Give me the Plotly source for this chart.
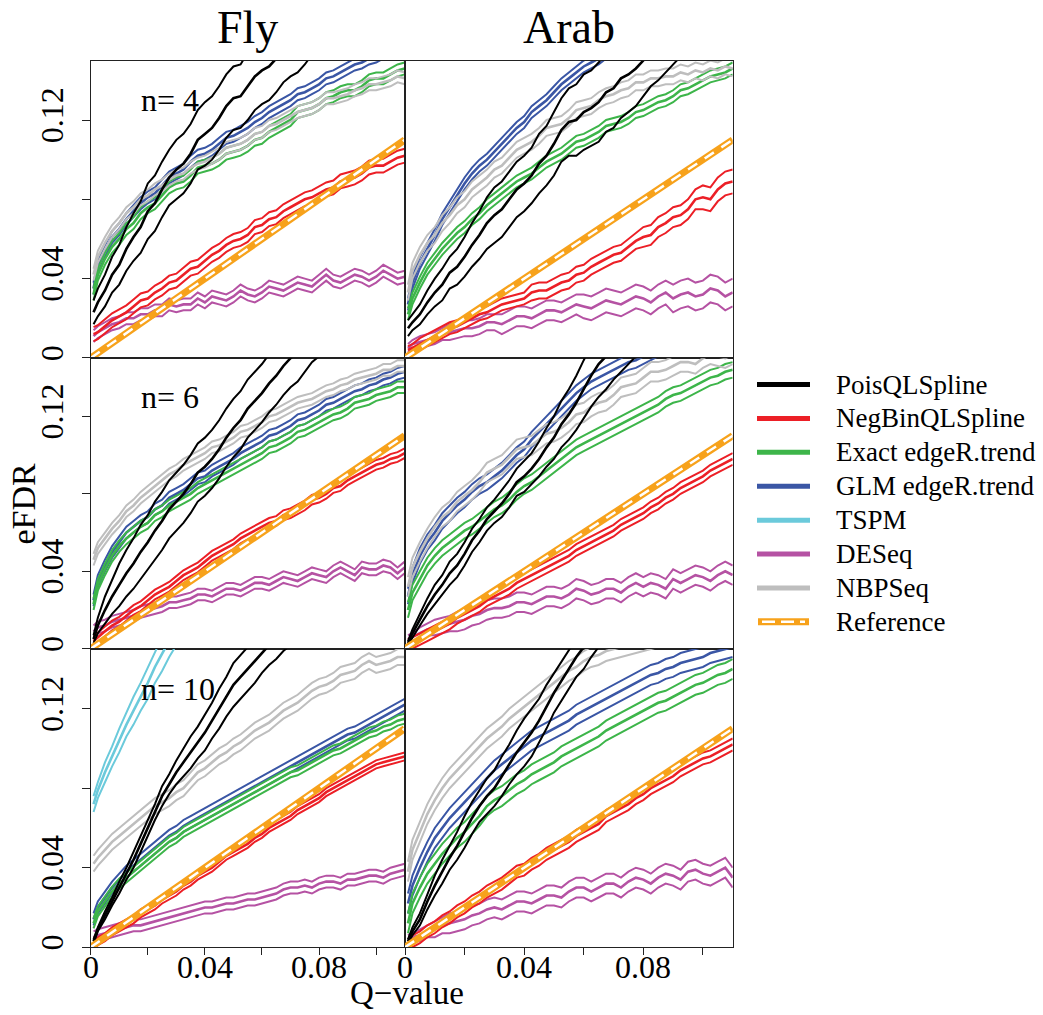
import numpy as np
import plotly.graph_objects as go

# ---------------- data (values in thousandths) ----------------
# Q-value grid (per mille)
Q = [1, 2.5, 5, 7.5, 10, 12.5, 15, 17.5, 20,
     22.5, 25, 27.5, 30, 32.5, 35, 37.5, 40, 42.5,
     45, 47.5, 50, 52.5, 55, 57.5, 60, 62.5, 65,
     67.5, 70, 72.5, 75, 77.5, 80, 82.5, 85, 87.5,
     90, 92.5, 95, 97.5, 100, 102.5, 105, 107.5, 110]

methods = ["PoisQLSpline", "NegBinQLSpline", "Exact edgeR.trend", "GLM edgeR.trend",
           "TSPM", "DESeq", "NBPSeq"]
colors = ["#000000", "#EC1F26", "#3DB54A", "#3A56A5", "#6BCADB", "#B552A3", "#BEBEBE"]
ref_color = "#F7A21B"
ref_q = [0, 110]
ref_efdr = [0, 110]

# ----- Fly, n = 4 -----
fly4_pois = [23, 28, 34, 42, 47, 55, 61, 66, 74,
             78, 85, 91, 95, 98, 103, 110, 113, 116,
             121, 127, 131, 132, 137, 142, 145, 147, 151,
             156, 159, 161, 165, 170, 173, 175, 178, 183,
             186, 189, 192, 196, 199, 202, 205, 209, 212]
fly4_pois_hw = [6, 7, 8, 9, 10, 11, 12, 13, 14,
                14, 14, 14, 15, 15, 15, 15, 16, 16,
                16, 16, 16, 16, 17, 17, 17, 17, 17,
                17, 17, 17, 17, 17, 17, 17, 17, 17,
                17, 17, 17, 17, 17, 17, 17, 17, 17]
fly4_negbin = [12, 13, 16, 19, 21, 23, 26, 29, 30,
               33, 35, 38, 39, 42, 45, 46, 49, 52,
               54, 57, 59, 60, 62, 66, 67, 70, 71,
               74, 76, 78, 80, 81, 83, 85, 86, 89,
               90, 91, 93, 96, 97, 97, 99, 101, 102]
fly4_negbin_hw = 3.5
fly4_exact = [32, 42, 50, 56, 60, 65, 68, 73, 76,
              78, 82, 86, 88, 89, 92, 96, 97, 98,
              100, 103, 104, 105, 107, 110, 111, 114, 116,
              118, 120, 124, 125, 126, 128, 131, 132, 134,
              135, 135, 137, 140, 141, 141, 143, 145, 146]
fly4_exact_hw = 3
fly4_glm = [35, 46, 54, 61, 65, 70, 74, 78, 81,
            83, 87, 91, 93, 95, 99, 102, 103, 105,
            108, 111, 112, 114, 116, 119, 121, 124, 126,
            128, 130, 133, 134, 136, 138, 141, 142, 144,
            146, 148, 149, 151, 152, 154, 155, 157, 158]
fly4_glm_hw = 3
fly4_deseq = [11, 13, 15, 17, 18, 20, 20, 22, 22,
              24, 24, 27, 26, 27, 27, 30, 28, 31,
              30, 29, 31, 34, 32, 31, 33, 36, 35,
              34, 36, 38, 37, 36, 39, 42, 39, 38,
              40, 42, 41, 39, 41, 44, 42, 40, 41]
fly4_deseq_hw = 3
fly4_nbp = [42, 51, 58, 64, 68, 73, 76, 80, 82,
            85, 87, 90, 92, 93, 96, 98, 99, 101,
            103, 106, 107, 108, 110, 113, 114, 117, 118,
            120, 122, 124, 125, 126, 128, 131, 131, 132,
            133, 135, 136, 138, 138, 139, 140, 142, 141]
fly4_nbp_hw = 3

# ----- Fly, n = 6 -----
fly6_pois = [5, 12, 20, 27, 33, 39, 44, 50, 55,
             61, 66, 72, 76, 80, 85, 91, 94, 98,
             103, 109, 114, 118, 124, 128, 132, 137, 141,
             146, 150, 153, 158, 163, 166, 170, 174, 178,
             182, 186, 190, 194, 198, 202, 206, 210, 214]
fly6_pois_hw = [2, 4, 7, 9, 11, 12, 13, 14, 14,
                15, 15, 15, 15, 15, 15, 15, 15, 15,
                15, 15, 15, 15, 15, 15, 15, 15, 15,
                15, 15, 15, 15, 15, 15, 15, 15, 15,
                15, 15, 15, 15, 15, 15, 15, 15, 15]
fly6_negbin = [4, 6, 9, 12, 14, 17, 20, 22, 25,
               28, 30, 32, 35, 38, 40, 42, 45, 48,
               50, 52, 54, 57, 59, 61, 63, 65, 66,
               69, 70, 72, 74, 77, 78, 80, 83, 84,
               87, 89, 91, 93, 95, 96, 98, 99, 101]
fly6_negbin_hw = 2.5
fly6_exact = [23, 33, 41, 48, 53, 57, 60, 63, 65,
              69, 71, 74, 76, 78, 80, 83, 85, 87,
              89, 91, 93, 95, 97, 99, 101, 104, 105,
              107, 109, 112, 113, 115, 117, 119, 121, 122,
              124, 127, 128, 129, 131, 132, 133, 135, 135]
fly6_exact_hw = 3
fly6_glm = [25, 35, 43, 50, 55, 60, 63, 66, 68,
            72, 74, 78, 80, 82, 85, 88, 89, 92,
            94, 96, 98, 101, 103, 105, 107, 110, 111,
            113, 115, 118, 119, 121, 123, 126, 127, 129,
            131, 133, 134, 136, 137, 139, 140, 142, 143]
fly6_glm_hw = 3
fly6_deseq = [9, 11, 12, 14, 15, 16, 17, 19, 20,
              21, 22, 24, 24, 25, 26, 28, 28, 27,
              29, 31, 31, 30, 32, 34, 34, 33, 35,
              37, 36, 35, 37, 39, 38, 37, 40, 42,
              40, 38, 42, 41, 41, 43, 42, 39, 42]
fly6_deseq_hw = 3
fly6_nbp = [46, 52, 57, 62, 66, 71, 74, 78, 81,
            84, 87, 90, 92, 95, 97, 99, 101, 104,
            105, 107, 109, 112, 113, 115, 117, 120, 121,
            123, 125, 127, 128, 129, 131, 133, 134, 136,
            137, 139, 140, 141, 142, 144, 144, 146, 146]
fly6_nbp_hw = 3

# ----- Fly, n = 10 -----
fly10_pois = [3, 9, 16, 23, 30, 37, 44, 52, 60,
              68, 76, 82, 88, 93, 98, 103, 108, 114,
              120, 126, 132, 136, 140, 144, 148, 152, 155,
              159, 162, 166, 169, 173, 176, 180, 183, 187,
              190, 194, 197, 201, 204, 208, 211, 215, 218]
fly10_pois_hw = [1, 1, 2, 2, 3, 3, 4, 4, 4,
                 4, 5, 5, 6, 7, 8, 8, 9, 9,
                 10, 10, 11, 11, 11, 11, 10, 10, 10,
                 10, 10, 10, 10, 10, 10, 10, 10, 10,
                 10, 10, 10, 10, 10, 10, 10, 10, 10]
fly10_negbin = [1, 3, 5, 8, 10, 12, 14, 17, 19,
                21, 24, 26, 28, 31, 33, 36, 38, 40,
                43, 46, 48, 50, 52, 55, 57, 60, 62,
                64, 66, 69, 71, 73, 75, 78, 80, 82,
                84, 86, 88, 90, 92, 93, 94, 95, 96]
fly10_negbin_hw = 2
fly10_exact = [12, 18, 23, 28, 32, 35, 38, 41, 44,
               47, 50, 53, 55, 58, 60, 62, 64, 66,
               68, 70, 72, 74, 76, 78, 80, 82, 84,
               86, 88, 89, 91, 93, 95, 97, 99, 100,
               102, 104, 106, 108, 109, 111, 112, 114, 115]
fly10_exact_hw = 2.5
fly10_glm = [14, 20, 25, 30, 34, 38, 41, 44, 47,
             50, 53, 56, 58, 61, 63, 65, 67, 69,
             71, 73, 75, 77, 79, 81, 83, 85, 87,
             89, 91, 93, 95, 97, 99, 101, 103, 105,
             107, 108, 110, 112, 114, 116, 118, 120, 122]
fly10_glm_hw = 3
fly10_tspm = [72, 79, 88, 96, 104, 112, 119, 126, 133,
              141, 148, 155, 162, 169, 175, 182, 188, 194,
              200, 206, 212, 218, 224, 230, 236, 242, 247,
              253, 258, 264, 269, 275, 280, 285, 290, 295,
              300, 305, 310, 315, 320, 325, 330, 335, 340]
fly10_tspm_hw = [4, 4, 5, 5, 6, 6, 7, 7, 8,
                 8, 9, 9, 10, 10, 10, 10, 10, 10,
                 10, 10, 10, 10, 10, 10, 10, 10, 10,
                 10, 10, 10, 10, 10, 10, 10, 10, 10,
                 10, 10, 10, 10, 10, 10, 10, 10, 10]
fly10_deseq = [5, 6, 7, 8, 9, 10, 11, 11, 12,
               13, 14, 15, 16, 17, 18, 19, 20, 20,
               21, 22, 22, 23, 24, 24, 25, 26, 27,
               29, 30, 30, 31, 30, 32, 33, 33, 32,
               34, 34, 35, 36, 36, 35, 37, 38, 39]
fly10_deseq_hw = 3
fly10_nbp = [42, 45, 49, 53, 56, 59, 62, 65, 68,
             71, 73, 75, 78, 80, 84, 88, 90, 93,
             96, 98, 101, 103, 106, 109, 111, 113, 116,
             119, 121, 123, 126, 129, 131, 132, 134, 137,
             138, 139, 142, 144, 142, 143, 144, 146, 146]
fly10_nbp_hw = 4

# ----- Arab, n = 4 -----
arab4_pois = [15, 18, 22, 28, 33, 37, 43, 46, 51,
              57, 62, 68, 72, 75, 80, 85, 88, 92,
              98, 102, 108, 115, 119, 120, 124, 126, 129,
              134, 136, 141, 143, 146, 150, 155, 158, 162,
              166, 170, 174, 178, 182, 186, 190, 194, 198]
arab4_pois_hw = [4, 4, 5, 6, 7, 8, 8, 9, 10,
                 11, 12, 13, 14, 14, 14, 14, 14, 14,
                 15, 15, 16, 16, 17, 18, 19, 19, 20,
                 20, 20, 20, 19, 19, 18, 18, 18, 18,
                 18, 18, 18, 18, 18, 18, 18, 18, 18]
arab4_negbin = [4, 5, 7, 9, 11, 13, 15, 16, 18,
                20, 22, 23, 25, 27, 28, 29, 30, 33,
                34, 34, 36, 38, 39, 42, 43, 46, 48,
                50, 52, 53, 56, 59, 61, 62, 66, 68,
                71, 72, 75, 80, 81, 80, 85, 88, 89]
arab4_negbin_hw = [2, 2, 3, 3, 3, 3, 3, 3, 3,
                   3, 3, 3, 3, 3, 3, 3, 3, 4,
                   4, 4, 4, 4, 4, 4, 4, 4, 4,
                   4, 4, 4, 4, 4, 5, 5, 5, 5,
                   5, 5, 5, 5, 6, 6, 6, 6, 6]
arab4_exact = [22, 30, 38, 45, 50, 55, 59, 63, 66,
               70, 73, 77, 80, 83, 86, 89, 91, 93,
               96, 99, 101, 103, 106, 109, 110, 112, 114,
               117, 118, 119, 121, 124, 125, 127, 129, 130,
               132, 135, 136, 138, 140, 142, 143, 144, 146]
arab4_exact_hw = 3
arab4_glm = [27, 38, 48, 55, 62, 70, 76, 82, 88,
             93, 97, 100, 104, 108, 112, 116, 119, 124,
             127, 130, 134, 138, 141, 144, 147, 149, 151,
             154, 156, 159, 161, 164, 166, 168, 170, 173,
             175, 177, 179, 181, 183, 185, 187, 189, 191]
arab4_glm_hw = 3
arab4_deseq = [5, 7, 8, 9, 10, 12, 13, 14, 15,
               15, 16, 18, 18, 17, 19, 21, 21, 20,
               22, 24, 24, 23, 25, 27, 26, 25, 27,
               29, 28, 27, 29, 31, 30, 28, 31, 33,
               30, 32, 33, 31, 32, 35, 34, 31, 33]
arab4_deseq_hw = [2, 2, 3, 3, 3, 3, 4, 4, 4,
                  4, 4, 4, 4, 5, 5, 5, 5, 5,
                  5, 5, 5, 5, 5, 5, 6, 6, 6,
                  6, 6, 6, 6, 6, 6, 6, 6, 6,
                  7, 7, 7, 7, 7, 7, 7, 7, 7]
arab4_nbp = [33, 44, 52, 58, 62, 68, 72, 77, 80,
             85, 88, 91, 95, 97, 101, 105, 107, 109,
             112, 116, 117, 118, 121, 125, 126, 127, 130,
             132, 133, 135, 136, 139, 139, 141, 141, 142,
             142, 144, 143, 145, 144, 146, 145, 147, 146]
arab4_nbp_hw = 4

# ----- Arab, n = 6 -----
arab6_pois = [3, 8, 15, 22, 28, 33, 39, 43, 49,
              56, 61, 67, 71, 75, 80, 86, 89, 93,
              98, 104, 109, 116, 121, 127, 134, 141, 147,
              151, 156, 160, 164, 168, 172, 176, 180, 184,
              188, 192, 196, 200, 204, 208, 212, 216, 220]
arab6_pois_hw = [1, 2, 3, 4, 5, 5, 6, 6, 6,
                 6, 6, 6, 6, 7, 7, 7, 8, 8,
                 9, 10, 11, 12, 13, 14, 15, 16, 17,
                 17, 17, 17, 17, 17, 17, 17, 17, 17,
                 17, 17, 17, 17, 17, 17, 17, 17, 17]
arab6_negbin = [2, 3, 5, 7, 9, 11, 13, 16, 18,
                20, 22, 25, 27, 29, 31, 34, 36, 38,
                40, 42, 44, 46, 48, 51, 53, 55, 57,
                59, 61, 64, 66, 68, 70, 73, 75, 78,
                80, 83, 85, 87, 89, 92, 94, 96, 98]
arab6_negbin_hw = 3
arab6_exact = [20, 29, 36, 43, 48, 52, 55, 58, 61,
               63, 66, 69, 72, 74, 77, 81, 84, 86,
               89, 92, 95, 98, 101, 104, 106, 108, 110,
               112, 114, 116, 118, 120, 122, 124, 126, 129,
               131, 132, 134, 136, 138, 140, 141, 143, 144]
arab6_exact_hw = 4
arab6_glm = [27, 38, 48, 55, 60, 66, 70, 74, 77,
             81, 84, 86, 89, 92, 96, 100, 103, 108,
             112, 116, 120, 124, 128, 132, 135, 138, 140,
             142, 144, 146, 148, 149, 151, 153, 155, 157,
             158, 160, 161, 163, 164, 166, 167, 169, 170]
arab6_glm_hw = 4
arab6_deseq = [5, 6, 8, 10, 11, 12, 13, 14, 15,
               17, 18, 20, 21, 21, 22, 24, 24, 23,
               25, 27, 27, 26, 28, 31, 30, 28, 29,
               31, 31, 29, 32, 34, 32, 34, 33, 31,
               36, 34, 36, 38, 37, 35, 38, 40, 38]
arab6_deseq_hw = [2, 2, 3, 3, 4, 4, 4, 5, 5,
                  5, 5, 5, 5, 5, 5, 5, 5, 5,
                  5, 5, 5, 5, 5, 5, 5, 5, 5,
                  5, 5, 5, 5, 5, 5, 5, 5, 5,
                  5, 5, 5, 5, 5, 5, 5, 5, 5]
arab6_nbp = [32, 42, 50, 57, 63, 68, 71, 76, 79,
             82, 86, 91, 93, 95, 99, 103, 104, 105,
             108, 111, 112, 114, 117, 121, 122, 125, 127,
             128, 131, 135, 136, 137, 140, 143, 143, 144,
             146, 148, 148, 147, 150, 152, 151, 150, 152]
arab6_nbp_hw = 5

# ----- Arab, n = 10 -----
arab10_pois = [3, 8, 14, 23, 31, 38, 45, 51, 58,
               65, 71, 76, 80, 86, 92, 98, 103, 108,
               114, 121, 128, 134, 140, 146, 151, 157, 162,
               168, 173, 179, 184, 190, 195, 201, 206, 212,
               217, 223, 228, 234, 239, 245, 250, 256, 261]
arab10_pois_hw = [1, 2, 3, 4, 5, 6, 6, 7, 8,
                  8, 8, 9, 9, 10, 10, 11, 12, 12,
                  11, 11, 10, 10, 10, 10, 11, 11, 11,
                  11, 11, 11, 11, 11, 11, 11, 11, 11,
                  11, 11, 11, 11, 11, 11, 11, 11, 11]
arab10_negbin = [1, 3, 5, 8, 10, 13, 15, 18, 20,
                 23, 25, 28, 30, 32, 35, 38, 39, 42,
                 44, 47, 49, 51, 53, 56, 58, 60, 62,
                 66, 68, 70, 72, 75, 77, 80, 82, 84,
                 86, 89, 91, 93, 95, 96, 98, 100, 102]
arab10_negbin_hw = 3
arab10_exact = [12, 22, 30, 37, 42, 47, 51, 55, 58,
                62, 66, 71, 74, 76, 79, 82, 84, 87,
                89, 91, 93, 96, 98, 100, 102, 104, 106,
                109, 111, 113, 115, 117, 119, 121, 123, 124,
                126, 128, 130, 132, 133, 135, 137, 138, 140]
arab10_exact_hw = 5
arab10_glm = [22, 31, 40, 48, 55, 60, 65, 69, 73,
              77, 81, 85, 89, 92, 95, 98, 101, 104,
              106, 108, 110, 112, 114, 117, 119, 121, 123,
              125, 127, 129, 131, 133, 135, 137, 138, 140,
              141, 143, 144, 145, 146, 148, 149, 150, 151]
arab10_glm_hw = 5
arab10_deseq = [4, 5, 6, 8, 9, 11, 12, 13, 14,
                16, 17, 19, 20, 19, 21, 23, 23, 22,
                24, 26, 26, 25, 28, 30, 30, 28, 30,
                32, 32, 30, 33, 35, 34, 32, 35, 37,
                36, 34, 38, 39, 37, 36, 38, 40, 35]
arab10_deseq_hw = [2, 2, 3, 3, 4, 4, 5, 5, 5,
                   5, 5, 5, 5, 5, 5, 5, 5, 5,
                   5, 5, 5, 5, 5, 5, 5, 5, 5,
                   5, 5, 5, 5, 5, 5, 5, 5, 5,
                   5, 5, 5, 5, 5, 5, 5, 5, 5]
arab10_nbp = [38, 49, 58, 67, 74, 80, 85, 89, 93,
              97, 101, 105, 108, 111, 115, 118, 121, 124,
              127, 130, 133, 136, 139, 141, 144, 146, 147,
              149, 150, 151, 152, 153, 154, 155, 156, 156,
              157, 157, 158, 158, 159, 159, 160, 160, 161]
arab10_nbp_hw = 5

x_ticks = [0, 0.02, 0.04, 0.06, 0.08, 0.10]
x_ticktext = ["0", "", "0.04", "", "0.08", ""]
y_ticks = [0, 0.04, 0.08, 0.12]
y_ticktext = ["0", "0.04", "", "0.12"]
col_titles = ["Fly", "Arab"]
row_labels = ["n= 4", "n= 6", "n= 10"]

# ---------------- assembly ----------------
panels = [
    (0, 0, {"PoisQLSpline": (fly4_pois, fly4_pois_hw), "NegBinQLSpline": (fly4_negbin, fly4_negbin_hw),
            "Exact edgeR.trend": (fly4_exact, fly4_exact_hw), "GLM edgeR.trend": (fly4_glm, fly4_glm_hw),
            "DESeq": (fly4_deseq, fly4_deseq_hw), "NBPSeq": (fly4_nbp, fly4_nbp_hw)}),
    (0, 1, {"PoisQLSpline": (arab4_pois, arab4_pois_hw), "NegBinQLSpline": (arab4_negbin, arab4_negbin_hw),
            "Exact edgeR.trend": (arab4_exact, arab4_exact_hw), "GLM edgeR.trend": (arab4_glm, arab4_glm_hw),
            "DESeq": (arab4_deseq, arab4_deseq_hw), "NBPSeq": (arab4_nbp, arab4_nbp_hw)}),
    (1, 0, {"PoisQLSpline": (fly6_pois, fly6_pois_hw), "NegBinQLSpline": (fly6_negbin, fly6_negbin_hw),
            "Exact edgeR.trend": (fly6_exact, fly6_exact_hw), "GLM edgeR.trend": (fly6_glm, fly6_glm_hw),
            "DESeq": (fly6_deseq, fly6_deseq_hw), "NBPSeq": (fly6_nbp, fly6_nbp_hw)}),
    (1, 1, {"PoisQLSpline": (arab6_pois, arab6_pois_hw), "NegBinQLSpline": (arab6_negbin, arab6_negbin_hw),
            "Exact edgeR.trend": (arab6_exact, arab6_exact_hw), "GLM edgeR.trend": (arab6_glm, arab6_glm_hw),
            "DESeq": (arab6_deseq, arab6_deseq_hw), "NBPSeq": (arab6_nbp, arab6_nbp_hw)}),
    (2, 0, {"PoisQLSpline": (fly10_pois, fly10_pois_hw), "NegBinQLSpline": (fly10_negbin, fly10_negbin_hw),
            "Exact edgeR.trend": (fly10_exact, fly10_exact_hw), "GLM edgeR.trend": (fly10_glm, fly10_glm_hw),
            "TSPM": (fly10_tspm, fly10_tspm_hw),
            "DESeq": (fly10_deseq, fly10_deseq_hw), "NBPSeq": (fly10_nbp, fly10_nbp_hw)}),
    (2, 1, {"PoisQLSpline": (arab10_pois, arab10_pois_hw), "NegBinQLSpline": (arab10_negbin, arab10_negbin_hw),
            "Exact edgeR.trend": (arab10_exact, arab10_exact_hw), "GLM edgeR.trend": (arab10_glm, arab10_glm_hw),
            "DESeq": (arab10_deseq, arab10_deseq_hw), "NBPSeq": (arab10_nbp, arab10_nbp_hw)}),
]

W, H = 1043, 1015
def pxx(v):
    return v / W
def pxy(v):
    return 1 - v / H

col_dom = [(90.7, 404.7), (405.0, 732.7)]
row_dom = [(60.7, 359.0), (359.3, 650.7), (651.0, 950.0)]

FONT = "Liberation Serif"
draw_order = ["DESeq", "GLM edgeR.trend", "Exact edgeR.trend", "NBPSeq",
              "NegBinQLSpline", "TSPM", "PoisQLSpline"]
color_of = dict(zip(methods, colors))

fig = go.Figure()
layout = dict(
    width=W, height=H, margin=dict(l=0, r=0, t=0, b=0),
    paper_bgcolor="white", plot_bgcolor="white", showlegend=False,
    font=dict(family=FONT, color="black"),
)
annotations = []
shapes = []

qx = np.array(Q, dtype=float) / 1000.0
for k, (r, c, series) in enumerate(panels, start=1):
    xa = "x" if k == 1 else f"x{k}"
    ya = "y" if k == 1 else f"y{k}"
    xkey = "xaxis" if k == 1 else f"xaxis{k}"
    ykey = "yaxis" if k == 1 else f"yaxis{k}"
    x0, x1 = col_dom[c]
    y0, y1 = row_dom[r]
    bottom = (r == 2)
    left = (c == 0)
    layout[xkey] = dict(
        domain=[pxx(x0), pxx(x1)], range=[0, 0.11], anchor=ya,
        showline=True, mirror=True, linecolor="#222", linewidth=1.4,
        showgrid=False, zeroline=False,
        ticks="outside" if bottom else "", ticklen=7, tickwidth=1.2, tickcolor="#222",
        tickvals=x_ticks, showticklabels=False,
    )
    layout[ykey] = dict(
        domain=[pxy(y1), pxy(y0)], range=[0, 0.15], anchor=xa,
        showline=True, mirror=True, linecolor="#222", linewidth=1.4,
        showgrid=False, zeroline=False,
        ticks="outside" if left else "", ticklen=8, tickwidth=1.2, tickcolor="#222",
        tickvals=y_ticks, ticktext=y_ticktext, showticklabels=left, tickangle=-90,
        ticklabelstandoff=6,
        tickfont=dict(family=FONT, size=32, color="black"),
    )
    # x tick labels (bottom row) placed as text on the axis scale
    if bottom:
        for tv, tt in zip(x_ticks, x_ticktext):
            if tt:
                annotations.append(dict(text=tt, x=tv, y=pxy(970), xref=xa, yref="paper",
                                        xanchor="center", yanchor="middle", showarrow=False,
                                        font=dict(family=FONT, size=32, color="black")))
    for m in draw_order:
        if m not in series:
            continue
        mid, hw = series[m]
        mid = np.array(mid, dtype=float) / 1000.0
        hw = np.broadcast_to(np.array(hw, dtype=float) / 1000.0, mid.shape)
        col = color_of[m]
        for yy, wdt in ((mid - hw, 2.0), (mid + hw, 2.0), (mid, 2.6)):
            fig.add_trace(go.Scatter(x=qx, y=yy, mode="lines", xaxis=xa, yaxis=ya,
                                     line=dict(color=col, width=wdt), hoverinfo="skip",
                                     showlegend=False))
    rq = np.array(ref_q, dtype=float) / 1000.0
    re = np.array(ref_efdr, dtype=float) / 1000.0
    fig.add_trace(go.Scatter(x=rq, y=re, mode="lines", xaxis=xa, yaxis=ya,
                             line=dict(color=ref_color, width=7), hoverinfo="skip", showlegend=False))
    fig.add_trace(go.Scatter(x=rq, y=re, mode="lines", xaxis=xa, yaxis=ya,
                             line=dict(color="white", width=2.5, dash="11px,9px"),
                             hoverinfo="skip", showlegend=False))
    if left:
        annotations.append(dict(text=row_labels[r], x=0.017, y=0.13, xref=xa, yref=ya,
                                xanchor="left", yanchor="middle", showarrow=False,
                                font=dict(family=FONT, size=32, color="black")))

# column titles
for c, t in enumerate(col_titles):
    x0, x1 = col_dom[c]
    annotations.append(dict(text=t, x=pxx((x0 + x1) / 2), y=pxy(28), xref="paper", yref="paper",
                            xanchor="center", yanchor="middle", showarrow=False,
                            font=dict(family=FONT, size=46, color="black")))
# axis titles
annotations.append(dict(text="eFDR", x=pxx(24), y=pxy(505), xref="paper", yref="paper",
                        xanchor="center", yanchor="middle", textangle=-90, showarrow=False,
                        font=dict(family=FONT, size=34, color="black")))
annotations.append(dict(text="Q\u2212value", x=pxx(407), y=pxy(996), xref="paper", yref="paper",
                        xanchor="center", yanchor="middle", showarrow=False,
                        font=dict(family=FONT, size=33, color="black")))

# legend (drawn manually)
leg_names = methods + ["Reference"]
leg_colors = colors + [ref_color]
for i, (nm, cl) in enumerate(zip(leg_names, leg_colors)):
    yy = 385.7 + 34.0 * i
    if nm == "Reference":
        shapes.append(dict(type="line", xref="paper", yref="paper", x0=pxx(758), x1=pxx(809),
                           y0=pxy(yy), y1=pxy(yy), line=dict(color=cl, width=7)))
        shapes.append(dict(type="line", xref="paper", yref="paper", x0=pxx(762), x1=pxx(805),
                           y0=pxy(yy), y1=pxy(yy), line=dict(color="white", width=2.5, dash="13px,6px")))
    else:
        shapes.append(dict(type="line", xref="paper", yref="paper", x0=pxx(757), x1=pxx(810),
                           y0=pxy(yy), y1=pxy(yy), line=dict(color=cl, width=5)))
    annotations.append(dict(text=nm, x=pxx(834), y=pxy(yy), xref="paper", yref="paper",
                            xanchor="left", yanchor="middle", showarrow=False,
                            font=dict(family=FONT, size=27, color="black")))

layout["annotations"] = annotations
layout["shapes"] = shapes
fig.update_layout(**layout)
fig.write_html("out.html")
